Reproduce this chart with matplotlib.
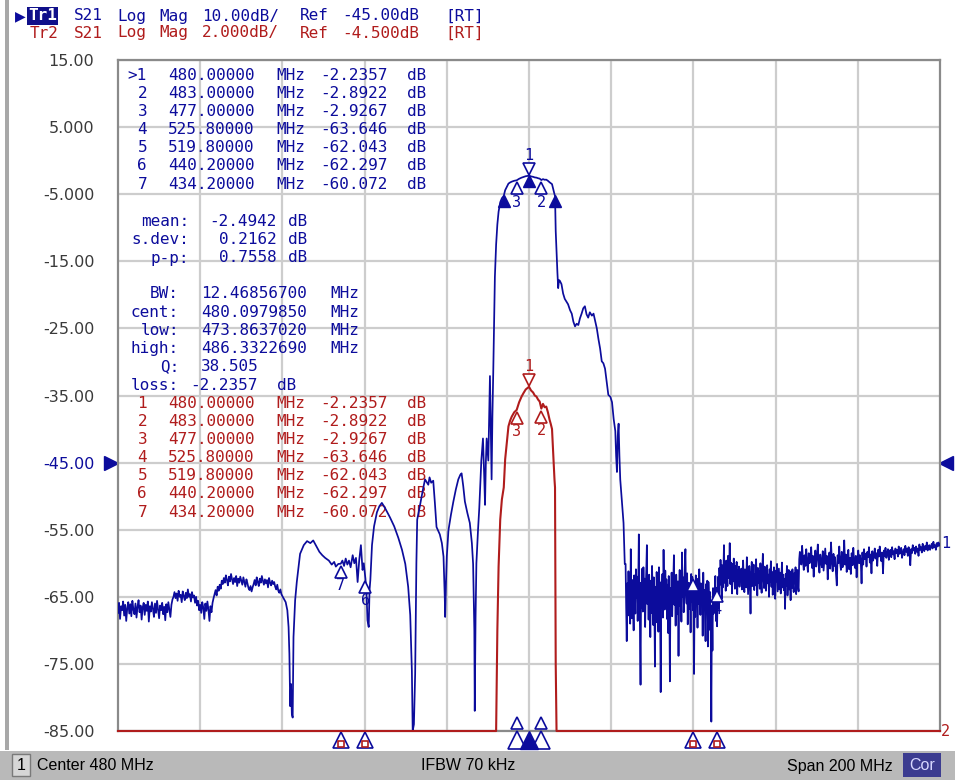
import numpy as np
import matplotlib
matplotlib.use("Agg")
import matplotlib.pyplot as plt
from matplotlib import transforms as mtrans
from matplotlib.patches import Rectangle

# ---------------- data ----------------
f_start, f_stop = 380.0, 580.0
y_ticks = [15, 5, -5, -15, -25, -35, -45, -55, -65, -75, -85]
y_tick_labels = ["15.00", "5.000", "-5.000", "-15.00", "-25.00", "-35.00",
                 "-45.00", "-55.00", "-65.00", "-75.00", "-85.00"]
tr1_ref, tr1_div = -45.0, 10.0
tr2_ref, tr2_div = -4.5, 2.0

# S21 trace, noisy low band 380.0 .. 420.0 MHz (sweep points)
seg_a = [-67.4, -65.9, -68.3, -66.4, -67.0, -65.7, -67.8, -66.2,
         -68.6, -66.7, -65.8, -67.5, -66.1, -67.9, -65.6, -66.9,
         -67.6, -66.0, -68.1, -66.5, -65.5, -67.3, -66.3, -68.4,
         -66.6, -65.9, -67.7, -66.2, -67.1, -65.7, -68.7, -66.4,
         -67.2, -65.8, -66.8, -68.0, -66.0, -67.4, -65.6, -66.9,
         -68.2, -66.3, -67.0, -65.9, -67.6, -66.5, -68.5, -66.1,
         -67.3, -65.8, -66.9, -68.0, -66.2, -65.4, -65.0, -64.3,
         -65.2, -64.5, -65.6, -64.1, -65.0, -64.7, -65.8, -64.2,
         -64.9, -65.5, -64.4, -65.2, -63.9, -65.0, -64.6, -65.7,
         -64.3, -65.1, -64.8, -65.9, -65.0, -66.3, -65.6, -67.0,
         -66.2, -67.4, -65.8, -66.6, -68.3, -66.0, -67.1, -65.7,
         -66.9, -68.6, -66.4, -67.3, -65.9, -65.2, -64.6, -64.0,
         -64.8, -63.5, -64.1, -63.2, -63.8, -62.6, -63.1, -62.2,
         -62.9, -61.8, -62.5, -63.3, -62.0, -62.7, -61.6, -62.4,
         -63.1, -62.2, -62.8, -61.9, -63.4, -62.3, -62.9, -62.0,
         -62.6, -63.2, -62.1, -62.8, -63.5, -62.4, -63.0, -63.7,
         -64.0, -63.4, -64.2, -63.6, -63.1, -62.5, -63.3, -62.1,
         -62.8, -63.4, -62.3, -62.9, -61.9, -62.6, -63.2, -62.4,
         -63.0, -62.5, -63.6, -62.2, -62.9, -63.3, -62.6, -63.1,
         -62.8, -63.5, -63.9, -63.2, -64.1, -64.4, -63.9, -64.6,
         -64.9]
seg_a_range = (380.0, 420.0)

# S21 trace, explicit points 420.8 .. 503.3 MHz
seg_b_freq = [420.8, 421.2, 421.5, 421.7, 421.9, 422.1, 422.3, 422.5, 422.7, 423.1,
              423.5, 424.3, 425.2, 426.0, 426.8, 427.5, 428.4, 429.0, 429.7, 430.4,
              431.3, 432.0, 432.6, 433.0, 433.6, 434.2, 434.6, 435.0, 435.4, 435.8,
              436.2, 436.6, 437.1, 437.5, 437.9, 438.3, 438.7, 439.1, 439.5, 439.8,
              440.2, 440.5, 440.7, 441.0, 441.2, 441.4, 441.8, 442.3, 443.0, 443.6,
              444.2, 445.0, 446.2, 447.2, 448.2, 449.1, 449.9, 450.6, 451.1, 451.5,
              451.7, 452.0, 452.3, 452.6, 452.8, 453.5, 454.2, 454.7, 455.1, 455.5,
              455.8, 456.2, 456.7, 457.1, 457.5, 458.3, 458.8, 459.2, 459.5, 459.6,
              459.8, 460.0, 460.4, 461.0, 461.6, 462.2, 462.8, 463.3, 463.6, 464.0,
              464.4, 465.0, 465.6, 466.1, 466.4, 466.7, 466.8, 467.0, 467.2, 467.6,
              467.9, 468.4, 468.8, 469.1, 469.3, 469.5, 469.7, 470.1, 470.3, 470.5,
              470.7, 470.9, 471.1, 471.3, 471.5, 471.7, 472.0, 472.3, 472.6, 473.0,
              473.4, 473.86, 474.2, 474.6, 475.0, 475.4, 475.8, 476.4, 477.0, 477.6,
              478.2, 478.7, 479.2, 479.6, 480.0, 480.5, 481.0, 481.4, 481.8, 482.2,
              482.6, 483.0, 483.4, 483.8, 484.2, 484.6, 485.0, 485.3, 485.6, 485.8,
              486.0, 486.2, 486.33, 486.4, 486.5, 486.7, 486.9, 487.1, 487.3, 487.5,
              487.9, 488.3, 488.7, 489.1, 489.5, 490.0, 490.4, 490.8, 491.2, 491.6,
              492.0, 492.4, 492.8, 493.2, 493.6, 494.0, 494.4, 494.8, 495.3, 495.7,
              496.1, 496.5, 496.9, 497.3, 497.7, 498.1, 498.5, 498.9, 499.3, 499.8,
              500.2, 500.6, 501.0, 501.2, 501.4, 501.6, 501.8, 502.0, 502.2, 502.6,
              503.0, 503.3]
seg_b_db = [-65.8, -67.0, -69.5, -73.5, -81.3, -78.0, -82.5, -83.0, -71.0, -65.5,
            -62.8, -58.6, -57.3, -56.7, -57.0, -56.6, -57.6, -58.3, -58.8, -59.2,
            -59.6, -60.2, -59.8, -60.5, -60.1, -60.07, -59.6, -60.4, -59.3, -60.2,
            -59.6, -60.6, -58.8, -60.0, -59.2, -62.8, -59.5, -57.3, -61.0, -60.0,
            -62.3, -65.0, -68.5, -69.5, -64.0, -62.5, -57.3, -54.5, -52.4, -51.5,
            -51.0, -51.8, -53.2, -54.5, -56.2, -58.0, -60.1, -63.5, -67.7, -76.0,
            -86.0, -84.0, -76.5, -60.0, -53.5, -51.3, -49.0, -47.5, -47.9, -48.3,
            -47.2, -48.0, -47.7, -51.0, -54.6, -55.7, -57.0, -59.0, -65.0, -68.0,
            -63.0, -59.0, -55.1, -52.8, -50.8, -49.0, -47.5, -46.8, -46.6, -48.5,
            -50.8, -52.5, -54.0, -57.0, -60.1, -70.0, -82.0, -68.0, -60.0, -55.0,
            -51.8, -44.7, -41.4, -47.0, -51.3, -45.0, -41.4, -44.7, -38.0, -32.1,
            -40.0, -47.5, -38.0, -31.6, -24.0, -17.3, -12.5, -9.5, -7.6, -6.2,
            -5.6, -5.24, -4.4, -3.9, -3.42, -3.25, -3.13, -3.0, -2.93, -2.7,
            -2.53, -2.42, -2.32, -2.28, -2.24, -2.35, -2.41, -2.5, -2.53, -2.62,
            -2.68, -2.89, -2.75, -2.85, -2.83, -3.0, -3.22, -3.35, -3.5, -4.0,
            -4.5, -5.0, -5.24, -7.8, -10.5, -13.5, -16.5, -19.0, -17.8, -17.9,
            -18.4, -19.8, -20.6, -21.0, -21.4, -22.3, -22.8, -24.0, -24.7, -24.3,
            -24.5, -23.5, -22.8, -22.0, -21.7, -22.9, -23.4, -22.6, -23.1, -22.8,
            -23.9, -25.0, -26.6, -28.0, -29.9, -30.2, -31.0, -33.0, -34.9, -35.2,
            -36.0, -38.5, -40.3, -44.0, -46.4, -41.0, -39.2, -44.0, -47.5, -50.8,
            -54.0, -60.1]

# S21 trace, noisy stop band 503.5 .. 531.5 MHz (sweep points)
seg_c = [-60.1, -66.5, -71.6, -63.0, -67.8, -61.2, -65.9, -62.4, -69.0, -57.9,
         -64.8, -68.2, -62.5, -66.3, -70.0, -61.8, -64.0, -67.5, -60.9, -65.2,
         -62.0, -68.6, -63.4, -55.7, -64.6, -69.8, -78.1, -62.9, -66.7, -60.8,
         -67.2, -60.6, -65.0, -62.3, -69.5, -63.8, -61.0, -57.3, -66.1, -63.0,
         -68.4, -61.7, -65.3, -71.0, -62.6, -67.4, -60.4, -64.7, -69.2, -62.1,
         -66.0, -75.4, -63.5, -68.8, -61.3, -65.6, -63.9, -70.2, -60.6, -64.2,
         -67.0, -79.2, -62.8, -65.4, -61.6, -68.1, -58.0, -64.3, -66.9, -61.1,
         -65.8, -62.4, -68.3, -63.2, -70.4, -61.9, -65.1, -77.6, -63.7, -66.6,
         -61.4, -67.9, -64.1, -62.2, -58.8, -66.2, -63.3, -69.3, -61.7, -64.9,
         -67.6, -62.7, -73.8, -64.4, -61.0, -66.4, -63.1, -68.7, -58.4, -65.0,
         -62.1, -67.3, -63.6, -60.0, -57.9, -64.8, -66.0, -61.5, -69.1, -64.5,
         -62.9, -66.8, -63.8, -70.3, -61.6, -65.7, -62.04, -67.0, -64.2, -76.5,
         -63.5, -68.0, -61.8, -65.5, -63.4, -69.6, -62.3, -66.1, -60.9, -64.6,
         -67.7, -63.0, -65.9, -63.9, -70.8, -61.4, -66.5, -64.0, -68.2, -71.6,
         -63.1, -66.9, -62.6, -72.4, -62.8, -65.6, -69.9, -64.3, -70.5, -83.6,
         -66.3, -73.0, -63.7, -67.5, -63.9, -65.2, -61.9, -68.6, -63.65, -69.4,
         -64.7, -62.0, -66.8, -60.7, -63.2, -59.5, -62.4, -65.3, -60.3, -63.6,
         -61.1, -57.3, -62.9, -60.2, -64.1, -59.6, -61.8, -63.4, -58.9, -62.2,
         -60.6, -57.0, -63.1, -59.9, -61.5, -64.5, -60.1, -62.7, -59.3, -61.9,
         -63.8, -60.4, -62.3, -59.8, -64.6, -61.0, -62.8, -60.5, -63.5, -61.3,
         -62.0]
seg_c_range = (503.5, 531.5)

# S21 trace, 531.65 .. 545.9 MHz (sweep points)
seg_d = [-60.8, -63.9, -61.4, -59.6, -62.7, -64.3, -60.9, -62.0, -63.6, -59.1,
         -61.8, -64.6, -62.3, -60.4, -63.1, -67.5, -61.5, -59.8, -63.4, -62.1,
         -60.2, -64.0, -61.6, -63.3, -59.4, -62.5, -64.8, -60.7, -62.9, -61.2,
         -63.8, -60.0, -62.6, -64.4, -61.0, -58.6, -62.2, -63.7, -60.5, -61.9,
         -64.1, -62.4, -60.3, -63.0, -61.7, -65.0, -60.9, -62.8, -59.7, -63.5,
         -61.3, -64.7, -62.0, -60.6, -63.2, -65.3, -61.1, -62.7, -60.1, -64.2,
         -62.5, -60.8, -63.9, -61.4, -64.5, -62.1, -59.9, -63.6, -61.7, -64.0,
         -62.3, -66.8, -61.6, -63.4, -60.4, -64.8, -62.6, -61.0, -63.9, -62.2,
         -65.5, -61.2, -63.7, -60.9, -62.8, -64.3, -61.5, -63.0, -60.6, -64.6,
         -62.4, -61.0, -63.5, -64.2, -59.4, -58.3]
seg_d_range = (531.65, 545.9)

# S21 trace, 546.05 .. 580.0 MHz (sweep points)
seg_e = [-58.6, -60.2, -57.4, -59.5, -61.0, -58.8, -60.4, -57.9, -59.9, -61.3,
         -58.5, -60.0, -59.2, -57.6, -60.7, -58.9, -62.0, -59.3, -58.1, -60.5,
         -59.0, -57.2, -60.3, -61.4, -58.7, -59.8, -60.6, -58.2, -61.1, -59.4,
         -57.8, -60.1, -58.9, -62.4, -59.6, -58.4, -60.8, -56.9, -59.7, -61.2,
         -58.6, -60.4, -59.1, -61.5, -63.3, -58.8, -60.0, -57.5, -59.9, -61.0,
         -58.3, -60.6, -59.4, -56.6, -60.2, -58.7, -61.3, -59.5, -58.0, -60.9,
         -59.2, -61.6, -58.5, -60.3, -57.7, -59.8, -60.7, -58.9, -62.1, -59.3,
         -58.1, -60.0, -58.8, -59.6, -63.0, -58.4, -60.2, -57.9, -59.4, -58.6,
         -60.5, -58.3, -59.1, -57.6, -59.9, -58.7, -61.5, -58.2, -59.6, -58.9,
         -57.8, -59.3, -58.5, -60.4, -58.0, -59.0, -57.5, -58.8, -59.7, -58.4,
         -61.5, -58.1, -58.9, -57.7, -59.2, -58.6, -57.9, -59.5, -58.3, -58.0,
         -59.1, -57.6, -58.7, -58.2, -59.4, -57.8, -58.5, -58.0, -59.0, -57.5,
         -58.6, -58.1, -57.7, -59.2, -58.4, -57.9, -58.8, -57.4, -58.3, -57.8,
         -58.9, -57.6, -58.2, -60.3, -57.9, -58.5, -57.3, -58.1, -57.7, -58.6,
         -57.5, -58.3, -57.8, -58.9, -57.2, -58.0, -57.6, -58.4, -57.1, -57.9,
         -58.2, -57.4, -57.9, -56.9, -58.1, -57.6, -57.3, -58.0, -57.5, -57.1,
         -57.8, -56.8, -57.6, -57.3, -58.0, -57.0, -57.5, -56.9, -57.4, -57.1]
seg_e_range = (546.05, 580.0)

# markers
marker_ids = ["1", "2", "3", "4", "5", "6", "7"]
marker_freq = [480.0, 483.0, 477.0, 525.8, 519.8, 440.2, 434.2]
marker_db = [-2.2357, -2.8922, -2.9267, -63.646, -62.043, -62.297, -60.072]

stat_names = ["mean:", "s.dev:", "p-p:"]
stat_vals = ["-2.4942", "0.2162", "0.7558"]
bw_names = ["BW:", "cent:", "low:", "high:", "Q:"]
bw_vals = ["12.46856700", "480.0979850", "473.8637020", "486.3322690", "38.505"]
bw_units = ["MHz", "MHz", "MHz", "MHz", ""]
bw_low, bw_high, bw_loss = 473.8637020, 486.3322690, -2.2357

# ---------------- build trace ----------------
freq = np.concatenate([np.linspace(*seg_a_range, len(seg_a)), seg_b_freq,
                       np.linspace(*seg_c_range, len(seg_c)),
                       np.linspace(*seg_d_range, len(seg_d)),
                       np.linspace(*seg_e_range, len(seg_e))])
s21 = np.concatenate([seg_a, seg_b_db, seg_c, seg_d, seg_e])

# ---------------- style ----------------
BLUE = "#0c0c9c"
RED = "#b01c1c"
GRID = "#cdcdcd"
MONO = "DejaVu Sans Mono"
W, H = 955, 780
L, R, T, B = 118, 940, 60, 731

fig = plt.figure(figsize=(W / 100, H / 100), dpi=100)
fig.patch.set_facecolor("white")


def fx(px):
    return px / W


def fy(py):
    return 1 - py / H


ax = fig.add_axes([fx(L), fy(B), (R - L) / W, (B - T) / H])
ax.set_xlim(f_start, f_stop)
ax.set_ylim(tr1_ref - 4 * tr1_div, tr1_ref + 6 * tr1_div)
ax.set_xticks(np.arange(400, 580, 20))
ax.set_xticklabels([])
ax.set_yticks(y_ticks)
ax.set_yticklabels(y_tick_labels, fontsize=11.5, color="#3a3a3a", family="DejaVu Sans")
for t in ax.get_yticklabels():
    if t.get_text() == "-45.00":
        t.set_color(BLUE)
ax.tick_params(length=0, pad=17)
ax.grid(True, color=GRID, lw=1.6)
ax.set_axisbelow(True)
for s in ax.spines.values():
    s.set_color("#8a8a8a")
    s.set_linewidth(1.6)

lo1, hi1 = ax.get_ylim()
# Tr1 trace
ax.plot(freq, np.clip(s21, lo1, hi1), color=BLUE, lw=1.25, zorder=3)

# Tr2 on its own scale (2 dB/div, ref -4.5 dB on the same division as Tr1)
ax2 = ax.twinx()
ax2.set_ylim(tr2_ref - 4 * tr2_div, tr2_ref + 6 * tr2_div)
lo2, hi2 = ax2.get_ylim()
ax2.set_yticks([])
for s in ax2.spines.values():
    s.set_visible(False)
ax2.plot(freq, np.clip(s21, lo2, hi2), color=RED, lw=1.5, zorder=3, clip_on=False)


def off(axis, dy):
    return mtrans.offset_copy(axis.transData, fig=fig, x=0, y=dy, units="dots")


# markers on both traces
for axis, col, lo in ((ax, BLUE, lo1), (ax2, RED, lo2)):
    for mid, mf, mv in zip(marker_ids, marker_freq, marker_db):
        if mv < lo:
            continue
        if mid == "1":
            axis.plot([mf], [mv], marker="v", ms=9, mfc="white", mec=col, mew=1.2,
                      transform=off(axis, 7), zorder=5, clip_on=False)
            axis.text(mf, mv, mid, transform=off(axis, 20), color=col, ha="center",
                      va="center", fontsize=11, family=MONO, zorder=5)
        else:
            axis.plot([mf], [mv], marker="^", ms=9, mfc="white", mec=col, mew=1.2,
                      transform=off(axis, -8), zorder=5, clip_on=False)
            axis.text(mf, mv, mid, transform=off(axis, -22), color=col, ha="center",
                      va="center", fontsize=11, family=MONO, zorder=5)

# bandwidth search markers (filled)
for mf, mv in ((bw_low, bw_loss - 3.0), (bw_high, bw_loss - 3.0), (480.0, bw_loss)):
    ax.plot([mf], [mv], marker="^", ms=9, color=BLUE, transform=off(ax, -5), zorder=6)

# marker position indicators under the axis
bot = mtrans.blended_transform_factory(ax.transData, ax.transAxes)
for mid, mf in zip(marker_ids, marker_freq):
    tr = mtrans.offset_copy(bot, fig=fig, x=0, y=-9, units="dots")
    if mid == "1":
        ax.plot([mf], [0], marker="^", ms=13, color=BLUE, transform=tr, clip_on=False, zorder=6)
    elif mid in ("2", "3"):
        ax.plot([mf], [0], marker="^", ms=13, mfc="white", mec=BLUE, mew=1.2,
                transform=tr, clip_on=False, zorder=5)
        tr2 = mtrans.offset_copy(bot, fig=fig, x=0, y=8, units="dots")
        ax.plot([mf], [0], marker="^", ms=9, mfc="white", mec=BLUE, mew=1.2,
                transform=tr2, clip_on=False, zorder=5)
    else:
        ax.plot([mf], [0], marker="^", ms=11, mfc="white", mec=BLUE, mew=1.2,
                transform=tr, clip_on=False, zorder=5)
        tr3 = mtrans.offset_copy(bot, fig=fig, x=0, y=-13, units="dots")
        ax.plot([mf], [0], marker="s", ms=5, mfc="white", mec=RED, mew=1.2,
                transform=tr3, clip_on=False, zorder=5)

# reference level arrows and trace numbers
yblend = mtrans.blended_transform_factory(ax.transAxes, ax.transData)
ax.plot([0], [tr1_ref], marker=">", ms=10, color=BLUE, clip_on=False,
        transform=mtrans.offset_copy(yblend, fig=fig, x=-7, y=0, units="dots"))
ax.plot([1], [tr1_ref], marker="<", ms=10, color=BLUE, clip_on=False,
        transform=mtrans.offset_copy(yblend, fig=fig, x=6, y=0, units="dots"))
ax.text(1, s21[-1], "1", color=BLUE, fontsize=11, family=MONO, va="center", ha="left",
        transform=mtrans.offset_copy(yblend, fig=fig, x=1, y=0, units="dots"))
y2blend = mtrans.blended_transform_factory(ax2.transAxes, ax2.transData)
ax2.text(1, lo2, "2", color=RED, fontsize=11, family=MONO, va="center", ha="left",
         transform=mtrans.offset_copy(y2blend, fig=fig, x=1, y=0, units="dots"))


# ---------------- marker tables ----------------
def ftext(px, py, s, col, ha="left", **kw):
    ax.text(fx(px), fy(py), s, transform=fig.transFigure, color=col, ha=ha, va="center",
            fontsize=11.5, family=MONO, zorder=1, **kw)


def table(y0, col, first):
    for i, (mid, mf, mv) in enumerate(zip(marker_ids, marker_freq, marker_db)):
        y = y0 + i * 18.2
        lab = (">" + mid) if (first and i == 0) else mid
        ftext(147, y, lab, col, ha="right")
        ftext(168, y, f"{mf:.5f}", col)
        ftext(276, y, "MHz", col)
        ftext(320, y, f"{mv:.5g}", col)
        ftext(407, y, "dB", col)


table(75, BLUE, True)
for i, (n, v) in enumerate(zip(stat_names, stat_vals)):
    y = 222 + i * 18
    ftext(189, y, n, BLUE, ha="right")
    ftext(277, y, v, BLUE, ha="right")
    ftext(288, y, "dB", BLUE)
for i, (n, v, u) in enumerate(zip(bw_names, bw_vals, bw_units)):
    y = 294 + i * 18.2
    ftext(179, y, n, BLUE, ha="right")
    ftext(201, y, v, BLUE)
    if u:
        ftext(330, y, u, BLUE)
ftext(179, 385, "loss:", BLUE, ha="right")
ftext(190, 385, f"{bw_loss:.5g}", BLUE)
ftext(277, 385, "dB", BLUE)
table(403, RED, False)

# ---------------- header ----------------
fig.patches.append(Rectangle((fx(5), fy(750)), fx(4), 750 / H, transform=fig.transFigure,
                             facecolor="#a8a8a8", edgecolor="none"))
fig.text(fx(15), fy(16), "\u25B6", color=BLUE, fontsize=10, va="center", ha="left")
fig.text(fx(28), fy(16), "Tr1", color="white", fontsize=11.5, family=MONO, va="center",
         ha="left", fontweight="bold",
         bbox=dict(boxstyle="square,pad=0.08", facecolor="#10108a", edgecolor="none"))
hdr1 = ["S21", "Log", "Mag", "10.00dB/", "Ref", "-45.00dB", "[RT]"]
hdr2 = ["S21", "Log", "Mag", "2.000dB/", "Ref", "-4.500dB", "[RT]"]
hx = [74, 117, 159, 202, 300, 342, 445]
for s, x in zip(hdr1, hx):
    fig.text(fx(x), fy(16), s, color=BLUE, fontsize=11.5, family=MONO, va="center")
fig.text(fx(30), fy(33), "Tr2", color=RED, fontsize=11.5, family=MONO, va="center")
for s, x in zip(hdr2, hx):
    fig.text(fx(x), fy(33), s, color=RED, fontsize=11.5, family=MONO, va="center")

# ---------------- status bar ----------------
SB = "Liberation Sans"
fig.patches.append(Rectangle((0, 0), 1, fy(751), transform=fig.transFigure,
                             facecolor="#b9b9b9", edgecolor="none"))
fig.patches.append(Rectangle((fx(12), fy(776)), fx(18), 22 / H, transform=fig.transFigure,
                             facecolor="#d6d6d6", edgecolor="#7a7a7a", lw=1))
fig.text(fx(21), fy(766), "1", fontsize=11.5, va="center", ha="center", color="black", family=SB)
fig.text(fx(37), fy(766), "Center 480 MHz", fontsize=11.5, va="center", ha="left",
         color="black", family=SB)
fig.text(fx(468), fy(766), "IFBW 70 kHz", fontsize=11.5, va="center", ha="center",
         color="black", family=SB)
fig.text(fx(893), fy(766), "Span 200 MHz", fontsize=11.5, va="center", ha="right",
         color="black", family=SB)
fig.patches.append(Rectangle((fx(903), fy(777)), fx(38), 24 / H, transform=fig.transFigure,
                             facecolor="#3c3c90", edgecolor="none"))
fig.text(fx(922), fy(766), "Cor", fontsize=11.5, va="center", ha="center", color="#d8d8ff",
         family=SB)

fig.savefig("out.png", dpi=100)
